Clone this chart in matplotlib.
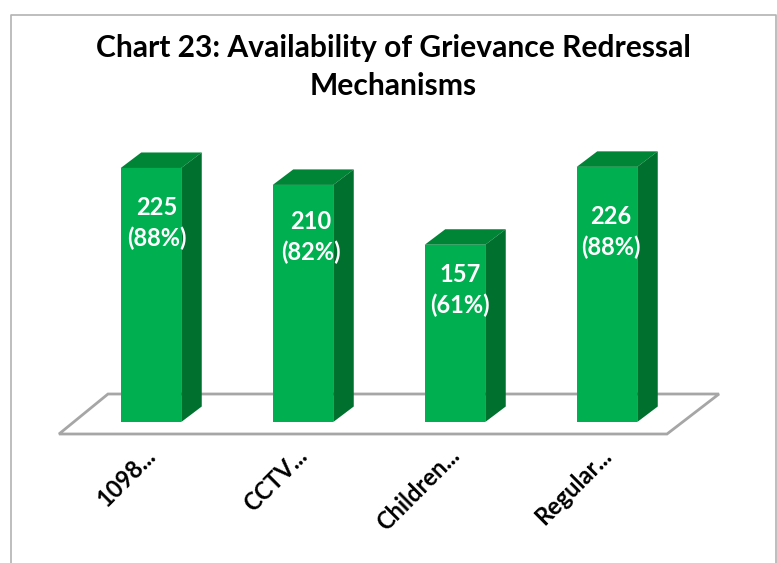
import matplotlib
matplotlib.use('Agg')
import matplotlib.pyplot as plt
from matplotlib.patches import Polygon

categories = ['1098...', 'CCTV...', 'Children...', 'Regular...']
counts = [225, 210, 157, 226]
percents = [88, 82, 61, 88]

W, H = 777, 563
x0_px, x_step = 151.0, 152.0
y0_px, y_scale = 422.0, 1.129
bar_w = 60.5 / x_step
dx = 20.5 / x_step
dy = 15.5 / y_scale

# the value labels sit by hand in each bar: pixels right of bar centre, pixels below bar top
label_right = [6, 8, 5, 4]
label_below = [55, 52, 45, 65]

plt.rcParams['font.family'] = ['Lato', 'DejaVu Sans']

fig = plt.figure(figsize=(W / 100, H / 100), dpi=100)
ax = fig.add_axes([0, 0, 1, 1])
ax.set_xlim(-x0_px / x_step, (W - x0_px) / x_step)
ax.set_ylim(-(H - y0_px) / y_scale, y0_px / y_scale)
ax.axis('off')

def px(x, y):
    return x / W, 1 - y / H

# frame of the chart
frame = [px(11, 563), px(11, 15), px(776, 15), px(776, 563)]
ax.plot([p[0] for p in frame], [p[1] for p in frame], transform=ax.transAxes, color='#b3b3b3', lw=1.2, clip_on=False)

# floor
floor = [px(59, 434), px(108, 394), px(719, 394), px(667, 434)]
ax.add_patch(Polygon(floor, closed=True, transform=ax.transAxes, fc='white', ec='#a6a6a6', lw=2, zorder=1))

xs = list(range(len(counts)))
ax.bar(xs, counts, width=bar_w, color='#00b050', zorder=3)
for x, v in zip(xs, counts):
    l, r = x - bar_w / 2, x + bar_w / 2
    ax.add_patch(Polygon([(l, v), (l + dx, v + dy), (r + dx, v + dy), (r, v)], fc='#008537', ec='none', zorder=3))
    ax.add_patch(Polygon([(r, 0), (r + dx, dy), (r + dx, v + dy), (r, v)], fc='#00702e', ec='none', zorder=3))

for i, (x, v, p) in enumerate(zip(xs, counts, percents)):
    ax.text(x + label_right[i] / x_step, v - label_below[i] / y_scale, '%d\n(%d%%)' % (v, p), color='white',
            fontsize=17, fontweight='bold', ha='center', va='center', linespacing=1.4, zorder=4)

for x, c in zip(xs, categories):
    ax.text(x - 0.05, -22 / y_scale, c, rotation=45, rotation_mode='anchor', ha='right', va='top',
            fontsize=17, fontweight='bold', color='black')

fig.text(393.5 / W, 1 - 67 / H, 'Chart 23: Availability of Grievance Redressal\nMechanisms', ha='center', va='center',
         fontsize=21.6, fontweight='bold', color='black', linespacing=1.42)

fig.savefig('out.png', dpi=100)
